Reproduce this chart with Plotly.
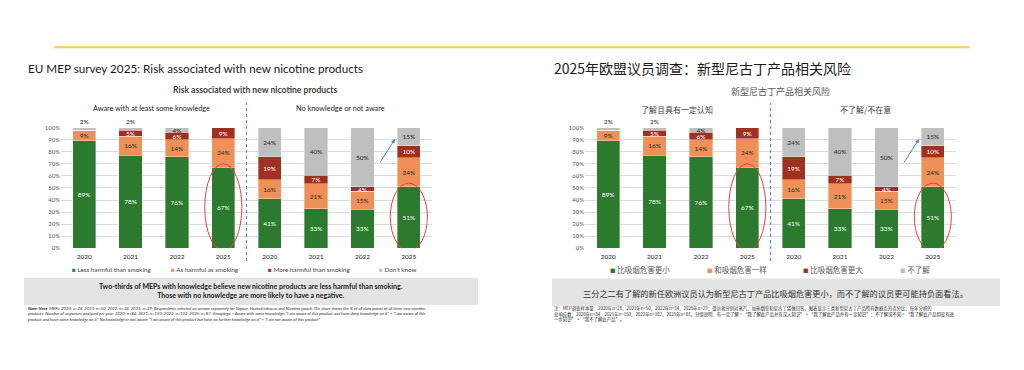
import plotly.graph_objects as go

# ---------------- data ----------------
years = ["2020", "2021", "2022", "2025"]
groups_en = ["Aware with at least some knowledge", "No knowledge or not aware"]
groups_cn = ["了解且具有一定认知", "不了解/不在意"]

series_en = ["Less harmful than smoking", "As harmful as smoking",
             "More harmful than smoking", "Don't know"]
series_cn = ["比吸烟危害更小", "和吸烟危害一样", "比吸烟危害更大", "不了解"]

aware_less = [89, 78, 76, 67]
aware_same = [9, 16, 14, 24]
aware_more = [0, 5, 6, 9]
aware_dk = [2, 2, 4, 0]

noknow_less = [41, 33, 33, 51]
noknow_same = [16, 21, 15, 24]
noknow_more = [19, 7, 4, 10]
noknow_dk = [24, 40, 50, 15]

# ---------------- styles ----------------
SW, SH = 1024, 370              # screenshot size
OFF = 8                         # page body margin
W, H = SW - 2 * OFF, SH - 2 * OFF   # figure size that fits without scrollbars
colors = ["#2b7a2e", "#ef9058", "#a0301f", "#bfbfbf"]
text_colors = ["#ffffff", "#262626", "#ffffff", "#262626"]
LAT = "Lato, 'Liberation Sans', sans-serif"
CJK = "'Noto Sans CJK SC', sans-serif"


def fx(p):
    return (p - OFF) / W


def fy(p):
    return 1 - (p - OFF) / H


series_values = [aware_less + noknow_less, aware_same + noknow_same,
                 aware_more + noknow_more, aware_dk + noknow_dk]
positions = list(range(len(years) * 2))
ticktext = years + years
top_index = len(series_values) - 1

fig = go.Figure()

panels = [
    dict(xa="x", ya="y", names=series_en),
    dict(xa="x2", ya="y2", names=series_cn),
]

for pn in panels:
    for i, vals in enumerate(series_values):
        tpos = ["outside" if (i == top_index and v < 3) else "inside" for v in vals]
        fig.add_trace(go.Bar(
            x=positions, y=vals, name=pn["names"][i],
            xaxis=pn["xa"], yaxis=pn["ya"],
            marker=dict(color=colors[i], line=dict(color="rgba(255,255,255,0.6)", width=0.6)),
            text=[f"{v}%" if v > 0 else "" for v in vals],
            textposition=tpos, insidetextanchor="middle",
            constraintext="none", textangle=0, cliponaxis=False,
            insidetextfont=dict(color=text_colors[i], size=6.5, family=LAT),
            outsidetextfont=dict(color=text_colors[i], size=6.5, family=LAT),
            showlegend=False, hoverinfo="skip",
        ))

axis_common = dict(showgrid=False, zeroline=False, showline=False, ticks="",
                   fixedrange=True, range=[-0.5, 7.5], tickvals=positions,
                   ticktext=ticktext, ticklabelstandoff=3,
                   tickfont=dict(size=6.5, color="#262626", family=LAT))
yaxis_common = dict(range=[0, 100], dtick=10, ticksuffix="%", showgrid=True,
                    gridcolor="#dcdcdc", gridwidth=1, zeroline=False, fixedrange=True,
                    showline=False, ticks="", tickfont=dict(size=6, color="#595959", family=LAT),
                    domain=[fy(249), fy(126)])

fig.update_layout(
    width=W, height=H, autosize=False,
    margin=dict(l=0, r=0, t=0, b=0),
    paper_bgcolor="#ffffff", plot_bgcolor="rgba(0,0,0,0)",
    barmode="stack", barnorm="percent", bargap=0.5,
    showlegend=False,
    xaxis=dict(domain=[fx(61), fx(432)], anchor="y", **axis_common),
    yaxis=dict(anchor="x", **yaxis_common),
    xaxis2=dict(domain=[fx(585), fx(956)], anchor="y2", **axis_common),
    yaxis2=dict(anchor="x2", **yaxis_common),
)

shapes = []
# yellow rule
shapes.append(dict(type="line", xref="paper", yref="paper", x0=fx(54), x1=fx(970),
                   y0=fy(44), y1=fy(44), line=dict(color="#f7cf4f", width=2), layer="below"))
# grey message boxes
shapes.append(dict(type="rect", xref="paper", yref="paper", x0=fx(24), x1=fx(478),
                   y0=fy(307), y1=fy(279), fillcolor="#e4e4e4", line=dict(width=0), layer="below"))
shapes.append(dict(type="rect", xref="paper", yref="paper", x0=fx(552), x1=fx(1000),
                   y0=fy(308), y1=fy(280), fillcolor="#e4e4e4", line=dict(width=0), layer="below"))

n = len(years)
for pn in panels:
    xa = pn["xa"]
    ya = pn["ya"]
    # dashed separator between the two groups
    shapes.append(dict(type="line", xref=xa, yref="paper", x0=n - 0.5, x1=n - 0.5,
                       y0=fy(262), y1=fy(101),
                       line=dict(color="#4f7fd0", width=1, dash="dot")))
    # red ellipses around the latest "less harmful" bars
    for k in (n - 1, 2 * n - 1):
        shapes.append(dict(type="circle", xref=xa, yref=ya,
                           x0=k - 0.4, x1=k + 0.4, y0=-2,
                           y1=series_values[0][k] + 3,
                           line=dict(color="#e8413c", width=1)))

fig.update_layout(shapes=shapes)

ann = []


def add_text(text, x, y, size, font, color="#1a1a1a", xanchor="left", align="left", **kw):
    ann.append(dict(text=text, x=fx(x), y=fy(y), xref="paper", yref="paper",
                    xanchor=xanchor, yanchor="middle", showarrow=False, align=align,
                    font=dict(size=size, family=font, color=color), **kw))


# titles
add_text("EU MEP survey 2025: Risk associated with new nicotine products", 26, 65, 11.7, LAT)
add_text("2025年欧盟议员调查：新型尼古丁产品相关风险", 552, 65, 14, CJK)
add_text("<b>Risk associated with new nicotine products</b>", 255, 88, 8.6, LAT,
         color="#404040", xanchor="center")
add_text("新型尼古丁产品相关风险", 780, 89, 9, CJK, color="#595959", xanchor="center")
# group headers
add_text(groups_en[0], 151, 106, 7.3, LAT, color="#262626", xanchor="center")
add_text(groups_en[1], 340, 106, 7.3, LAT, color="#262626", xanchor="center")
add_text(groups_cn[0], 677, 107, 8, CJK, color="#404040", xanchor="center")
add_text(groups_cn[1], 865, 107, 8, CJK, color="#404040", xanchor="center")

# legends
leg_x_en = [70, 169, 266, 377]
leg_x_cn = [608, 704.5, 801, 897.5]
for i in range(4):
    add_text(f'<span style="color:{colors[i]}">■</span> {series_en[i]}',
             leg_x_en[i], 270.5, 6.3, LAT, color="#404040")
    add_text(f'<span style="color:{colors[i]};font-size:5.5px">■</span> {series_cn[i]}',
             leg_x_cn[i], 270.5, 7.5, CJK, color="#595959")

# key messages
add_text("<b>Two-thirds of MEPs with knowledge believe new nicotine products are less harmful than smoking.<br>"
         "Those with no knowledge are more likely to have a negative.</b>",
         251, 292.5, 7.0, LAT, color="#1a1a1a", xanchor="center", align="center")
add_text("三分之二有了解的新任欧洲议员认为新型尼古丁产品比吸烟危害更小，而不了解的议员更可能持负面看法。",
         775, 294.5, 8.2, CJK, color="#333333", xanchor="center", align="center")

# notes
note_en = ("<i><b>Note: Note:</b> MEPs: 2020: n=28, 2021: n=50, 2022: n=34, 2025: n=29; Respondents selected an answer "
           "separately for Vapour, Heated tobacco and Nicotine pouch. The chart shows the % of all data points of all three new nicotine<br>"
           "products; Number of responses analysed per year: 2020: n=84, 2021: n=150, 2022: n=102, 2025: n=87; Groupings: - Aware with some "
           "knowledge: \"I am aware of this product and have deep knowledge on it\" + \"I am aware of this<br>"
           "product and have some knowledge on it\", No knowledge or not aware: \"I am aware of this product but have no further "
           "knowledge on it\" + \"I am not aware of this product\"</i>")
add_text(note_en, 26, 316.5, 4.2, LAT, color="#262626")
note_cn = ("注：MEP调查样本量：2020年n=28、2021年n=50、2022年n=34、2025年n=29；受访者分别对蒸汽、加热烟草和尼古丁袋做回答，"
           "图表显示三类新型尼古丁产品所有数据点的百分比；每年分析的<br>"
           "总响应数：2020年n=84、2021年n=150、2022年n=102、2025年n=87。分组说明：有一定了解 = “我了解此产品并有深入知识” + "
           "“我了解此产品并有一定知识”；不了解或不知 = “我了解此产品但没有进<br>"
           "一步知识” + “我不了解此产品”。")
add_text(note_cn, 552, 316, 4.4, CJK, color="#262626")

# blue arrows pointing at the shrinking "don't know" share
for xa, ya in (("x", "y"), ("x2", "y2")):
    ann.append(dict(x=2 * n - 1 - 0.3, y=90.5, ax=2 * n - 2 + 0.36, ay=70,
                    xref=xa, yref=ya, axref=xa, ayref=ya, text="", showarrow=True,
                    arrowhead=2, arrowsize=0.8, arrowwidth=1, arrowcolor="#4f7fd0"))

fig.update_layout(annotations=ann)
fig.write_html("out.html")
